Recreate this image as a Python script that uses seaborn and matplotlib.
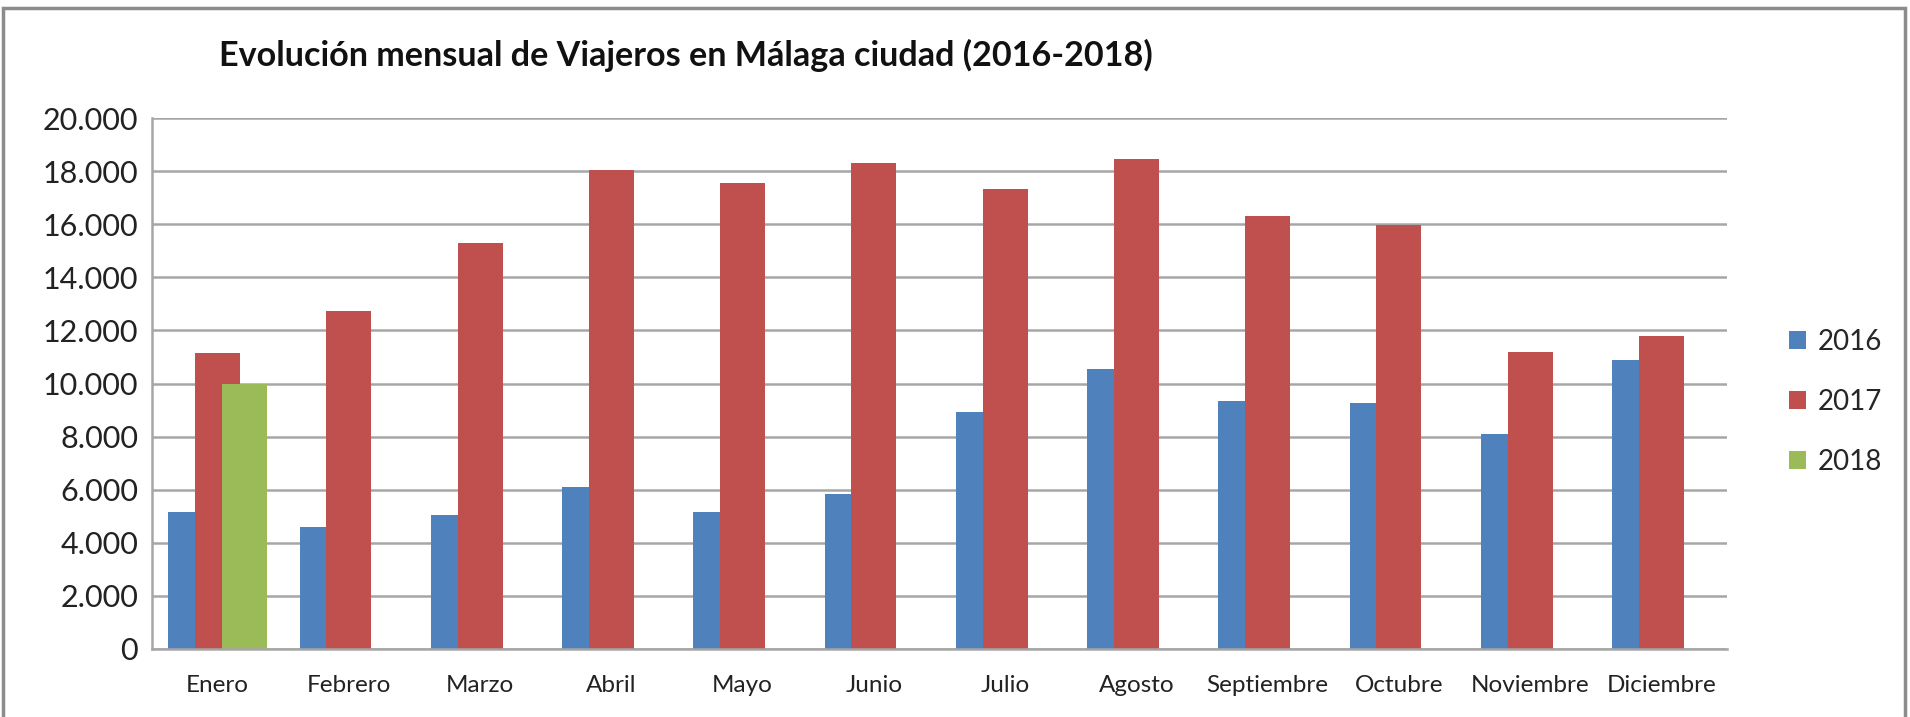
import numpy as np
import pandas as pd
import matplotlib
matplotlib.use("Agg")
import matplotlib.pyplot as plt
from matplotlib.ticker import FuncFormatter, MultipleLocator
from matplotlib.patches import Rectangle
import seaborn as sns

meses = ["Enero", "Febrero", "Marzo", "Abril", "Mayo", "Junio", "Julio",
         "Agosto", "Septiembre", "Octubre", "Noviembre", "Diciembre"]
anios = ["2016", "2017", "2018"]
v2016 = [5170, 4580, 5060, 6120, 5170, 5840, 8930, 10560, 9340, 9280, 8100, 10890]
v2017 = [11140, 12730, 15290, 18040, 17570, 18290, 17340, 18470, 16320, 15980, 11190, 11780]
v2018 = [9990, None, None, None, None, None, None, None, None, None, None, None]
colores = ["#4F81BD", "#C0504D", "#9BBB59"]

rows = []
for anio, vals in zip(anios, [v2016, v2017, v2018]):
    for m, v in zip(meses, vals):
        if v is not None:
            rows.append({"mes": m, "anio": anio, "viajeros": v})
df = pd.DataFrame(rows)

sns.set_theme(style="white")
plt.rcParams["font.family"] = ["Lato", "DejaVu Sans"]

fig = plt.figure(figsize=(19.10, 7.17), dpi=100)
ax = fig.add_axes([152/1910, 1-649/717, (1727-152)/1910, (649-118)/717])

sns.barplot(data=df, x="mes", y="viajeros", hue="anio", order=meses,
            hue_order=anios, palette=colores, dodge=True, width=0.8,
            saturation=1, errorbar=None, ax=ax, linewidth=0)

# Excel-style overlapping clustered bars
bw = 0.341
off = 0.204
for i, cont in enumerate(ax.containers):
    for bar in cont:
        c = bar.get_x() + bar.get_width()/2
        j = round(c)
        bar.set_x(j + (i-1)*off - bw/2)
        bar.set_width(bw)

ax.set_xlim(-0.5, 11.5)
ax.set_ylim(0, 20000)
ax.yaxis.set_major_locator(MultipleLocator(2000))
ax.yaxis.set_major_formatter(FuncFormatter(lambda x, p: f"{x:,.0f}".replace(",", ".")))
ax.set_xlabel("")
ax.set_ylabel("")
ax.grid(axis="y", color="#A6A6A6", linewidth=1.8)
ax.set_axisbelow(True)
for s in ["top", "right"]:
    ax.spines[s].set_visible(False)
for s in ["left", "bottom"]:
    ax.spines[s].set_color("#A6A6A6")
    ax.spines[s].set_linewidth(1.8)
ax.tick_params(axis="y", labelsize=22, length=0, pad=10, colors="#222222")
ax.tick_params(axis="x", labelsize=17.5, length=0, pad=19, colors="#222222")

# legend
leg = ax.get_legend()
handles = leg.legend_handles
labels = [t.get_text() for t in leg.texts]
leg.remove()
fig.legend(handles, labels, loc="center left", bbox_to_anchor=(1789/1910, 1-402/717),
           frameon=False, fontsize=20, handlelength=0.62, handleheight=0.62,
           handletextpad=0.4, labelspacing=1.22, borderpad=0, borderaxespad=0)

fig.text(219/1910, 1-55/717, "Evolución mensual de Viajeros en Málaga ciudad (2016-2018)",
         fontsize=24.6, fontweight="bold", ha="left", va="center", color="#111111")

fig.patches.append(Rectangle((3/1910, -0.02), 1902/1910, 1.02-8/717,
                             transform=fig.transFigure, fill=False,
                             edgecolor="#8C8C8C", linewidth=2.5))

fig.savefig("out.png", dpi=100)
